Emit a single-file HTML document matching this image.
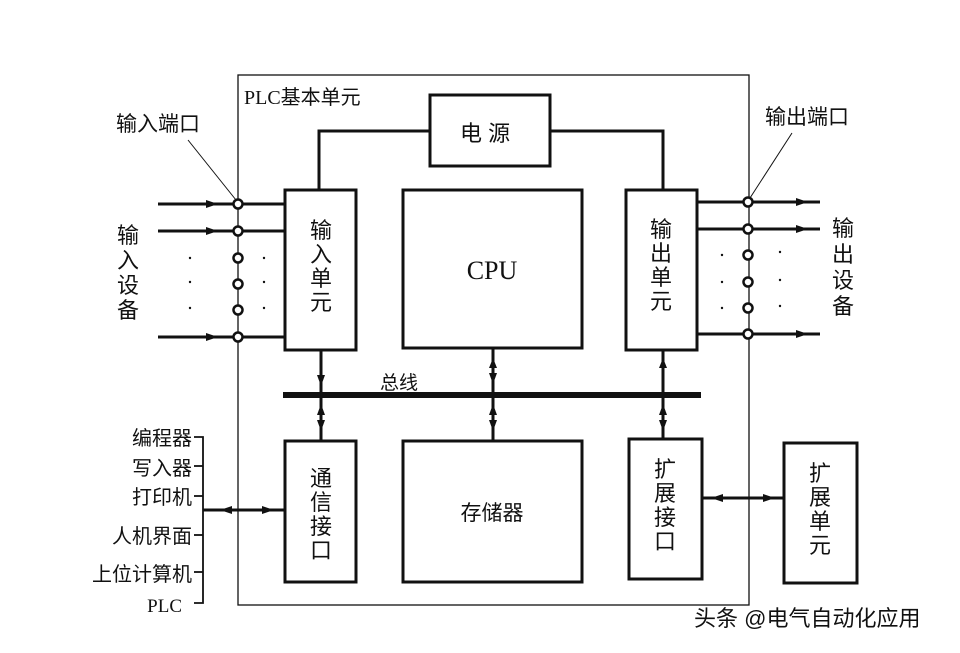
<!DOCTYPE html>
<html><head><meta charset="utf-8"><style>
html,body{margin:0;padding:0;background:#fff;}
text{font-family:"Liberation Sans","Noto Sans CJK SC",sans-serif;fill:#111;}
.s{font-family:"Liberation Serif","Noto Sans CJK SC",serif;}
</style></head><body>
<svg width="960" height="648" viewBox="0 0 960 648" xmlns="http://www.w3.org/2000/svg">
<rect width="960" height="648" fill="#fff"/>
<g fill="none" stroke="#111">
<rect x="238" y="75" width="511" height="530" stroke-width="1.3"/>
<g stroke-width="3">
<rect x="430" y="95" width="120" height="71"/>
<rect x="285" y="190" width="71" height="160"/>
<rect x="403" y="190" width="179" height="158"/>
<rect x="626" y="190" width="71" height="160"/>
<rect x="285" y="441" width="71" height="141"/>
<rect x="403" y="441" width="179" height="141"/>
<rect x="629" y="439" width="73" height="140"/>
<rect x="784" y="443" width="73" height="140"/>
<polyline points="319,190 319,131 430,131"/>
<polyline points="550,131 663,131 663,190"/>
<line x1="158" y1="204" x2="285" y2="204"/>
<line x1="158" y1="231" x2="285" y2="231"/>
<line x1="158" y1="337" x2="285" y2="337"/>
<line x1="697" y1="202" x2="820" y2="202"/>
<line x1="697" y1="229" x2="820" y2="229"/>
<line x1="697" y1="334" x2="820" y2="334"/>
<line x1="321" y1="350" x2="321" y2="441"/>
<line x1="493" y1="348" x2="493" y2="441"/>
<line x1="663" y1="350" x2="663" y2="439"/>
<line x1="203" y1="510" x2="285" y2="510"/>
<line x1="702" y1="498" x2="784" y2="498"/>
</g>
<line x1="283" y1="395" x2="701" y2="395" stroke-width="6"/>
<polyline points="194,437 203,437 203,603 194,603" stroke-width="1.8"/>
<g stroke-width="1.8">
<line x1="194" y1="466" x2="203" y2="466"/><line x1="194" y1="496" x2="203" y2="496"/>
<line x1="194" y1="535" x2="203" y2="535"/><line x1="194" y1="572" x2="203" y2="572"/>
</g>
<line x1="188" y1="140" x2="236" y2="200" stroke-width="1"/>
<line x1="792" y1="133" x2="750" y2="198" stroke-width="1"/>
<g stroke-width="2.5" fill="#fff">
<circle cx="238" cy="204" r="4.5"/><circle cx="238" cy="231" r="4.5"/><circle cx="238" cy="258" r="4.5"/>
<circle cx="238" cy="284" r="4.5"/><circle cx="238" cy="310" r="4.5"/><circle cx="238" cy="337" r="4.5"/>
<circle cx="748" cy="202" r="4.5"/><circle cx="748" cy="229" r="4.5"/><circle cx="748" cy="255" r="4.5"/>
<circle cx="748" cy="282" r="4.5"/><circle cx="748" cy="308" r="4.5"/><circle cx="748" cy="334" r="4.5"/>
</g>
</g>
<g fill="#111">
<path d="M206,200 L218,204 L206,208Z"/><path d="M206,227 L218,231 L206,235Z"/><path d="M206,333 L218,337 L206,341Z"/>
<path d="M796,198 L808,202 L796,206Z"/><path d="M796,225 L808,229 L796,233Z"/><path d="M796,330 L808,334 L796,338Z"/>
<path d="M317,375 L321,386 L325,375Z"/><path d="M317,415 L321,404 L325,415Z"/><path d="M317,420 L321,431 L325,420Z"/>
<path d="M489,368 L493,358 L497,368Z"/><path d="M489,373 L493,384 L497,373Z"/><path d="M489,415 L493,404 L497,415Z"/><path d="M489,420 L493,431 L497,420Z"/>
<path d="M659,368 L663,358 L667,368Z"/><path d="M659,415 L663,404 L667,415Z"/><path d="M659,420 L663,431 L667,420Z"/>
<path d="M232,506 L220,510 L232,514Z"/><path d="M262,506 L274,510 L262,514Z"/>
<path d="M723,494 L711,498 L723,502Z"/><path d="M763,494 L775,498 L763,502Z"/>
<circle cx="190" cy="258" r="1.2"/><circle cx="190" cy="282" r="1.2"/><circle cx="190" cy="308" r="1.2"/>
<circle cx="264" cy="258" r="1.2"/><circle cx="264" cy="282" r="1.2"/><circle cx="264" cy="308" r="1.2"/>
<circle cx="722" cy="255" r="1.2"/><circle cx="722" cy="282" r="1.2"/><circle cx="722" cy="308" r="1.2"/>
<circle cx="780" cy="252" r="1.2"/><circle cx="780" cy="280" r="1.2"/><circle cx="780" cy="306" r="1.2"/>
</g>
<g font-size="21">
<text x="244" y="104" font-size="20" class="s">PLC基本单元</text>
<text x="116" y="131">输入端口</text>
<text x="765" y="124">输出端口</text>
<text x="460" y="141" font-size="22">电 源</text>
<text x="492" y="279" font-size="26" text-anchor="middle" class="s">CPU</text>
<text x="492" y="520" text-anchor="middle">存储器</text>
<text x="380" y="389" font-size="19">总线</text>
</g>
<g font-size="22" text-anchor="middle">
<text x="128" y="243">输</text><text x="128" y="268">入</text><text x="128" y="293">设</text><text x="128" y="318">备</text>
<text x="843" y="236">输</text><text x="843" y="262">出</text><text x="843" y="288">设</text><text x="843" y="314">备</text>
<text x="321" y="238">输</text><text x="321" y="262">入</text><text x="321" y="286">单</text><text x="321" y="310">元</text>
<text x="661" y="237">输</text><text x="661" y="261">出</text><text x="661" y="285">单</text><text x="661" y="309">元</text>
<text x="321" y="486">通</text><text x="321" y="510">信</text><text x="321" y="534">接</text><text x="321" y="558">口</text>
<text x="665" y="477">扩</text><text x="665" y="501">展</text><text x="665" y="525">接</text><text x="665" y="549">口</text>
<text x="820" y="481">扩</text><text x="820" y="505">展</text><text x="820" y="529">单</text><text x="820" y="553">元</text>
</g>
<g font-size="20" text-anchor="end">
<text x="192" y="445">编程器</text><text x="192" y="475">写入器</text><text x="192" y="504">打印机</text>
<text x="192" y="543">人机界面</text><text x="192" y="581">上位计算机</text><text x="182" y="612" font-size="19" class="s">PLC</text>
</g>
<text x="694" y="626" font-size="22" fill="#222">头条 @电气自动化应用</text>
</svg>
</body></html>
